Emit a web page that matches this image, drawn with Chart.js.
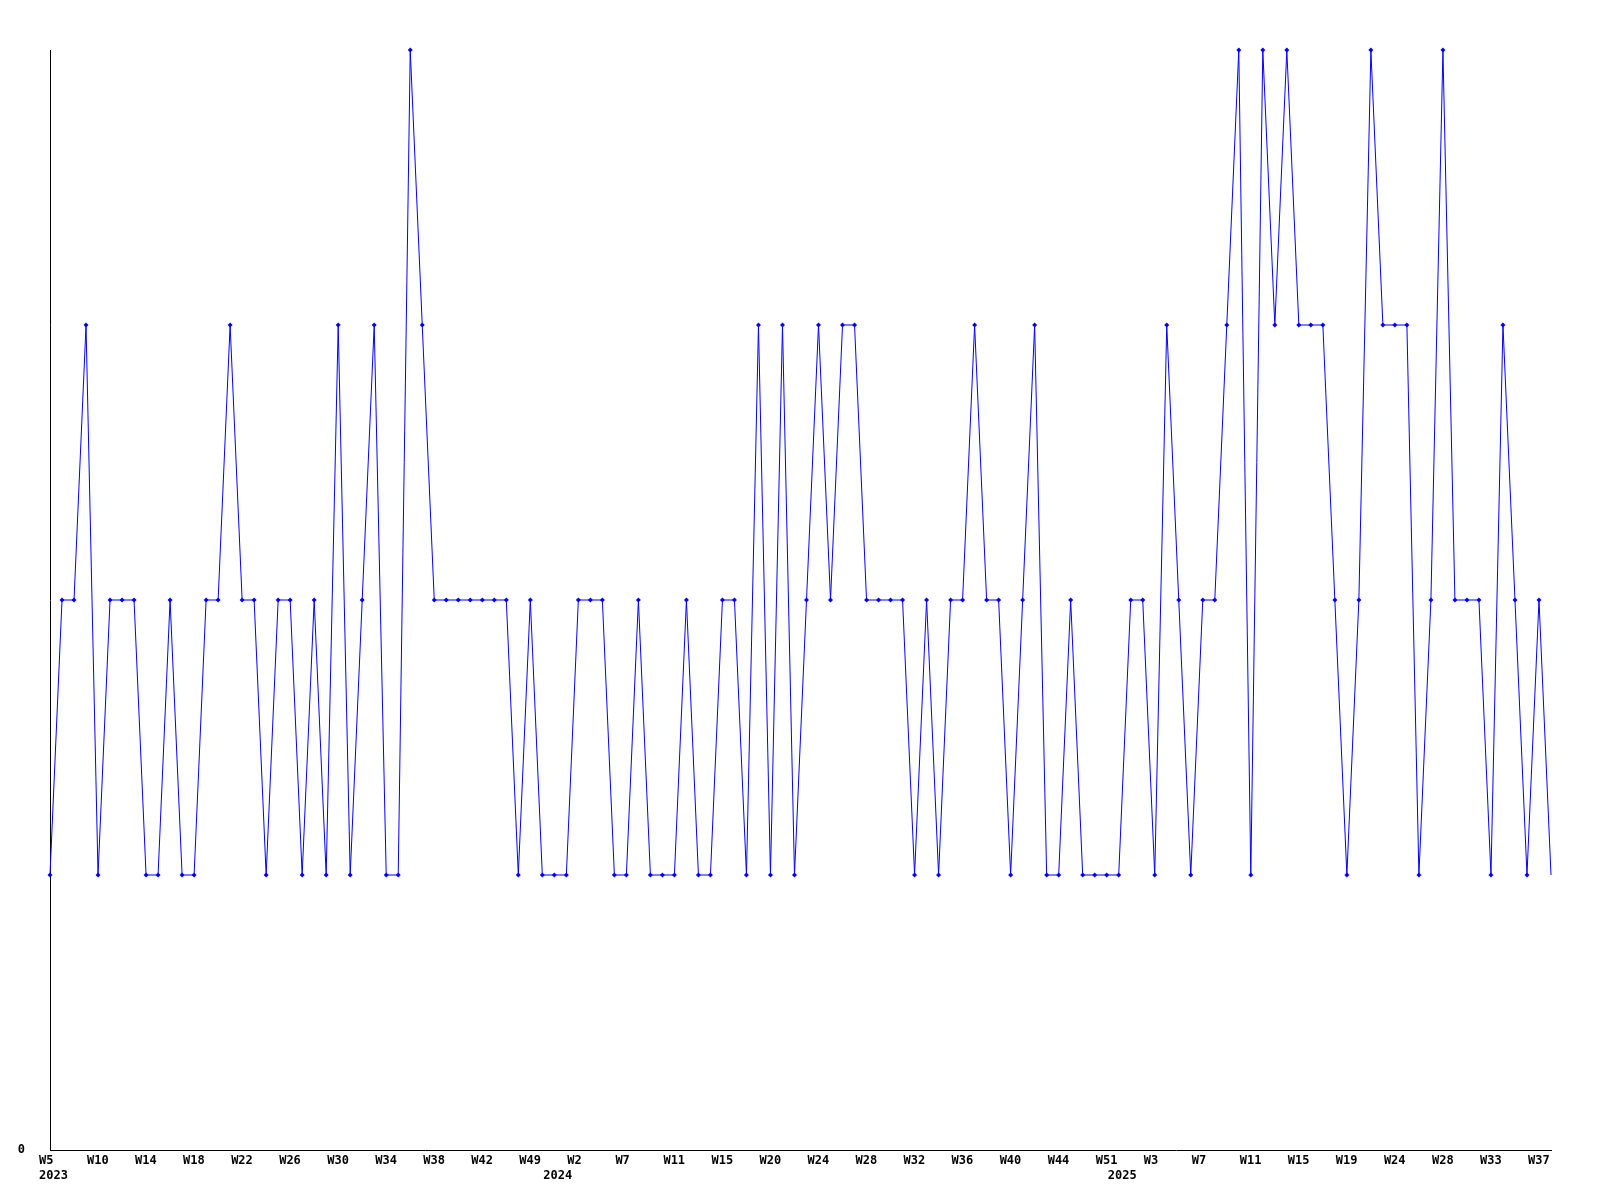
<!DOCTYPE html>
<html>
<head>
<meta charset="utf-8">
<script src="https://cdn.jsdelivr.net/npm/chart.js@4/dist/chart.umd.min.js"></script>
<style>
  html, body { margin: 0; padding: 0; background: #fff; }
  canvas { display: block; }
</style>
</head>
<body>
<canvas id="chart" width="1600" height="1200"></canvas>
<script>
// weeks present in the data, per year
const weeks2023 = [5, 6, 7, 8, 10, 11, 12, 13, 14, 15, 16, 17, 18, 19, 20, 21, 22, 23, 24, 25, 26, 27, 28, 29, 30, 31, 32, 33, 34, 35, 36, 37, 38, 39, 40, 41, 42, 44, 46, 47, 49, 51];
const weeks2024 = [0, 1, 2, 3, 4, 6, 7, 8, 9, 10, 11, 12, 13, 14, 15, 16, 17, 19, 20, 21, 22, 23, 24, 25, 26, 27, 28, 29, 30, 31, 32, 33, 34, 35, 36, 37, 38, 39, 40, 41, 42, 43, 44, 46, 48, 50, 51];
const weeks2025 = [0, 1, 2, 3, 4, 5, 6, 7, 8, 9, 10, 11, 12, 13, 14, 15, 16, 17, 18, 19, 20, 21, 22, 24, 25, 26, 27, 28, 29, 30, 32, 33, 34, 35, 36, 37, 38];

const values = [
  1, 2, 2, 3, 1, 2, 2, 2, 1, 1, 2, 1, 1, 2, 2, 3, 2, 2, 1, 2,
  2, 1, 2, 1, 3, 1, 2, 3, 1, 1, 4, 3, 2, 2, 2, 2, 2, 2, 2, 1,
  2, 1, 1, 1, 2, 2, 2, 1, 1, 2, 1, 1, 1, 2, 1, 1, 2, 2, 1, 3,
  1, 3, 1, 2, 3, 2, 3, 3, 2, 2, 2, 2, 1, 2, 1, 2, 2, 3, 2, 2,
  1, 2, 3, 1, 1, 2, 1, 1, 1, 1, 2, 2, 1, 3, 2, 1, 2, 2, 3, 4,
  1, 4, 3, 4, 3, 3, 3, 2, 1, 2, 4, 3, 3, 3, 1, 2, 4, 2, 2, 2,
  1, 3, 2, 1, 2, 1
];

const yTickLabels = ["0"];

// category list built from the per-year week arrays
const years = [];
const weeks = [];
[[2023, weeks2023], [2024, weeks2024], [2025, weeks2025]].forEach(([y, ws]) => {
  ws.forEach(w => { years.push(y); weeks.push(w); });
});
const labels = weeks.map((w, i) => years[i] + "-W" + w);

const FONT = { family: "'DejaVu Sans Mono', monospace", size: 12, weight: "bold", lineHeight: 1.2 };

new Chart(document.getElementById("chart").getContext("2d"), {
  type: "line",
  data: {
    labels: labels,
    datasets: [{
      data: values,
      borderColor: "#0000ff",
      backgroundColor: "#0000ff",
      borderWidth: 1,
      tension: 0,
      fill: false,
      pointStyle: "rectRot",
      pointRadius: (ctx) => ctx.dataIndex === values.length - 1 ? 0 : 2.5,
      pointBorderWidth: 0,
      clip: 10
    }]
  },
  options: {
    responsive: false,
    animation: false,
    layout: { padding: { top: 50, right: 49, bottom: 0, left: 0 } },
    plugins: {
      legend: { display: false },
      title: { display: false },
      tooltip: { enabled: false }
    },
    scales: {
      x: {
        type: "category",
        offset: false,
        grid: { display: false, drawTicks: false },
        border: { display: true, color: "#000", width: 1 },
        afterFit: (s) => { s.height = 50; },
        ticks: {
          autoSkip: false,
          maxRotation: 0,
          minRotation: 0,
          align: "start",
          labelOffset: -11,
          padding: 4,
          color: "#000",
          font: FONT,
          callback: (v, i) => {
            const lines = [];
            lines.push(i % 4 === 0 ? "W" + weeks[i] : "");
            if (i === 0 || years[i] !== years[i - 1]) lines.push(String(years[i]));
            return lines.length === 1 ? lines[0] : lines;
          }
        }
      },
      y: {
        min: 0,
        max: 4,
        grid: { display: false, drawTicks: false },
        border: { display: true, color: "#000", width: 1 },
        afterFit: (s) => { s.width = 50; },
        ticks: {
          stepSize: 1,
          padding: 25,
          color: "#000",
          font: FONT,
          callback: (v) => (v === 0 ? yTickLabels[0] : "")
        }
      }
    }
  }
});
</script>
</body>
</html>
